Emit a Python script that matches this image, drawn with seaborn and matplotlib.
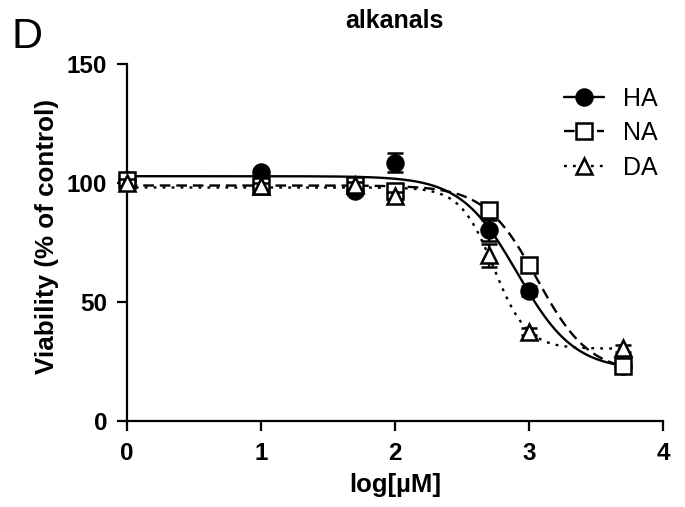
import numpy as np
import pandas as pd
import matplotlib
matplotlib.use("Agg")
import matplotlib.pyplot as plt
from matplotlib.lines import Line2D
import seaborn as sns

# log10 of concentration (µM); 0 is the vehicle control plotted at 0
log_conc = [0.0, 1.0, 1.699, 2.0, 2.699, 3.0, 3.699]

ha_mean = [101.0, 104.5, 96.5, 108.5, 80.0, 54.5, 23.0]
ha_sem = [1.5, 1.5, 1.5, 4.0, 4.5, 2.0, 1.5]
na_mean = [101.0, 98.5, 99.0, 96.5, 88.5, 65.5, 23.0]
na_sem = [1.5, 1.5, 1.5, 1.5, 1.5, 1.5, 1.5]
da_mean = [100.0, 98.5, 99.0, 94.5, 69.5, 37.5, 30.5]
da_sem = [1.5, 1.5, 1.5, 1.5, 5.0, 1.5, 1.5]

compounds = ["HA", "NA", "DA"]
means = {"HA": ha_mean, "NA": na_mean, "DA": da_mean}
sems = {"HA": ha_sem, "NA": na_sem, "DA": da_sem}


def four_pl(x, p):
    bottom, top, log_ec50, hill = p
    return bottom + (top - bottom) / (1.0 + 10.0 ** ((x - log_ec50) * hill))


def fit_four_pl(x, y, p0, n_iter=800):
    """Levenberg-Marquardt least squares for the 4-parameter logistic."""
    x = np.asarray(x, float)
    y = np.asarray(y, float)
    p = np.asarray(p0, float)
    lam = 1e-2
    sse = np.sum((y - four_pl(x, p)) ** 2)
    for _ in range(n_iter):
        r = y - four_pl(x, p)
        jac = np.empty((x.size, p.size))
        for k in range(p.size):
            dp = np.zeros_like(p)
            dp[k] = 1e-6 * max(1.0, abs(p[k]))
            jac[:, k] = (four_pl(x, p + dp) - four_pl(x, p - dp)) / (2 * dp[k])
        a = jac.T @ jac
        g = jac.T @ r
        step = np.linalg.solve(a + lam * np.diag(np.diag(a) + 1e-9), g)
        p_new = p + step
        sse_new = np.sum((y - four_pl(x, p_new)) ** 2)
        if sse_new < sse:
            p, sse = p_new, sse_new
            lam = max(lam / 3.0, 1e-9)
        else:
            lam *= 3.0
    return p


x_fine = np.linspace(0.0, max(log_conc), 400)
curve_rows = []
for name in compounds:
    params = fit_four_pl(log_conc, means[name], [min(means[name]), max(means[name]), 2.9, 2.0])
    curve_rows.append(pd.DataFrame({"x": x_fine, "y": four_pl(x_fine, params), "compound": name}))
curves = pd.concat(curve_rows, ignore_index=True)

sns.set_theme(style="ticks")
plt.rcParams["font.family"] = ["Liberation Sans", "DejaVu Sans"]
plt.rcParams.update({
    "axes.linewidth": 1.6,
    "text.color": "black",
    "axes.labelcolor": "black",
    "axes.edgecolor": "black",
    "xtick.color": "black",
    "ytick.color": "black",
})

fig = plt.figure(figsize=(6.85, 5.07), dpi=100)
ax = fig.add_axes([0.185, 0.170, 0.783, 0.704])

line_styles = {"HA": "-", "NA": (0, (4.5, 2.5)), "DA": (0, (1.2, 2.6))}
marker_kw = {
    "HA": dict(marker="o", markerfacecolor="black", markersize=11.5),
    "NA": dict(marker="s", markerfacecolor="white", markersize=11.5),
    "DA": dict(marker="^", markerfacecolor="white", markersize=11),
}

for name in compounds:
    sub = curves[curves["compound"] == name]
    sns.lineplot(data=sub, x="x", y="y", ax=ax, color="black", linewidth=1.7,
                 linestyle=line_styles[name], zorder=2, legend=False)

for i, name in enumerate(compounds):
    ax.errorbar(log_conc, means[name], yerr=sems[name], linestyle="none",
                color="black", ecolor="black", elinewidth=1.6, capsize=5.5,
                capthick=1.6, markeredgecolor="black", markeredgewidth=1.8,
                zorder=3 + i, clip_on=False, **marker_kw[name])

ax.set_xlim(0, 4)
ax.set_ylim(0, 150)
ax.set_xticks([0, 1, 2, 3, 4])
ax.set_yticks([0, 50, 100, 150])
ax.tick_params(axis="both", direction="out", length=7, width=1.6,
               labelsize=17.5, colors="black")
ax.tick_params(axis="x", pad=8)
ax.tick_params(axis="y", pad=7)
for lab in ax.get_xticklabels() + ax.get_yticklabels():
    lab.set_fontweight("bold")
sns.despine(ax=ax)

ax.set_xlabel("log[µM]", fontsize=18.5, fontweight="bold", labelpad=6)
ax.set_ylabel("Viability (% of control)", fontsize=18.7, fontweight="bold")
ax.yaxis.set_label_coords(-0.127, 0.517)
ax.text(0.5, 1.10, "alkanals", transform=ax.transAxes, ha="center",
        va="baseline", fontsize=18, fontweight="bold")
fig.text(0.017, 0.905, "D", fontsize=31, va="baseline", ha="left")

handles = [
    Line2D([], [], color="black", linewidth=1.7, linestyle=line_styles[n],
           markeredgecolor="black", markeredgewidth=1.8, **marker_kw[n])
    for n in compounds
]
ax.legend(handles, compounds, loc="upper right", bbox_to_anchor=(1.032, 0.999),
          frameon=False, fontsize=18, handlelength=1.6, handletextpad=0.75,
          labelspacing=0.42)

fig.savefig("out.png", dpi=100)
